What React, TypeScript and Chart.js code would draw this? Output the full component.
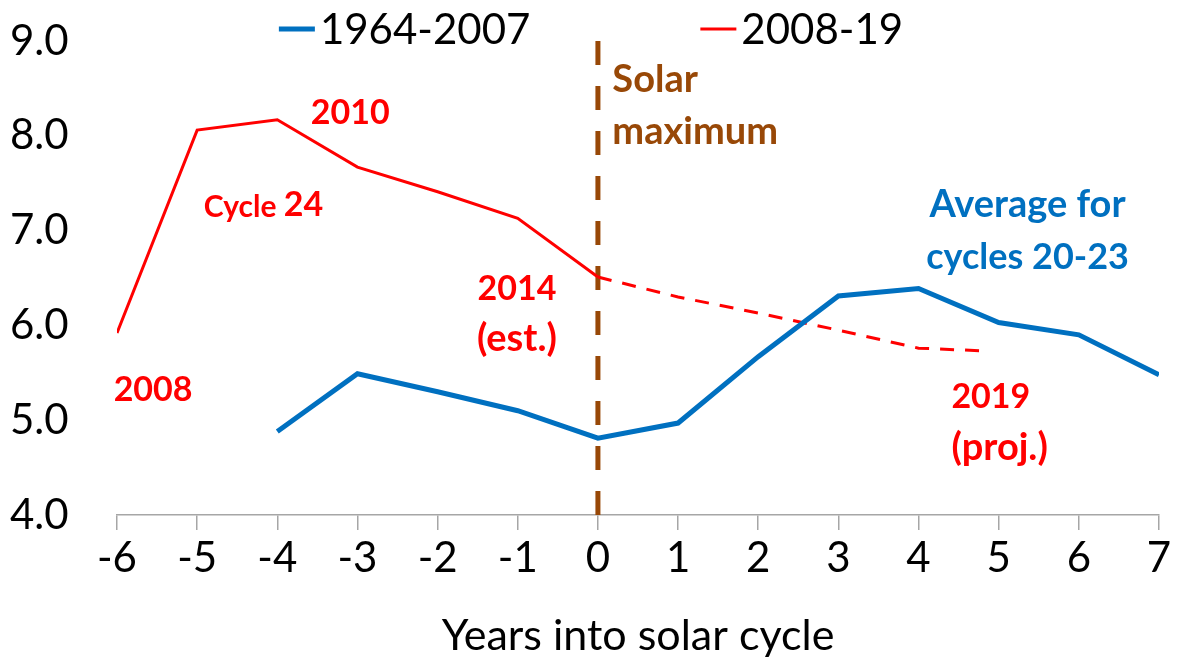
import React, { useEffect, useRef } from 'react';
import { Chart, registerables } from 'chart.js';

Chart.register(...registerables);

const FONT = 'Lato, "Open Sans", sans-serif';

// ---- data ----
const blueYears = [-4, -3, -2, -1, 0, 1, 2, 3, 4, 5, 6, 7];
const blueValues = [4.88, 5.49, 5.3, 5.1, 4.81, 4.97, 5.67, 6.31, 6.39, 6.03, 5.9, 5.48];
const redYears = [-6, -5, -4, -3, -2, -1, 0];
const redValues = [5.92, 8.06, 8.17, 7.67, 7.41, 7.13, 6.51];
const projYears = [0, 1, 2, 3, 4, 4.85];
const projValues = [6.51, 6.3, 6.13, 5.95, 5.76, 5.73];
const solarMaxYears = [0, 0];
const solarMaxValues = [9, 4];
const seriesLabels = ['1964-2007', '2008-19'];
const xMin = -6;
const xMax = 7;
const yMin = 4;
const yMax = 9;
const xTitle = 'Years into solar cycle';

const BLUE = '#0070C0';
const RED = '#FF0000';
const BROWN = '#984807';

type Note = { text: string; x: number; y: number; color: string; size: number; align: CanvasTextAlign };
const notes: Note[] = [
  { text: '2010', x: -3.09, y: 8.24, color: RED, size: 34, align: 'center' },
  { text: 'Cycle ', x: -3.92, y: 7.25, color: RED, size: 30, align: 'right' },
  { text: '24', x: -3.92, y: 7.27, color: RED, size: 34, align: 'left' },
  { text: '2014', x: -1.01, y: 6.38, color: RED, size: 34, align: 'center' },
  { text: '(est.)', x: -1.01, y: 5.86, color: RED, size: 38, align: 'center' },
  { text: '2008', x: -5.55, y: 5.32, color: RED, size: 34, align: 'center' },
  { text: '2019', x: 4.41, y: 5.24, color: RED, size: 34, align: 'left' },
  { text: '(proj.)', x: 4.41, y: 4.71, color: RED, size: 38, align: 'left' },
  { text: 'Average for', x: 5.36, y: 7.27, color: BLUE, size: 38, align: 'center' },
  { text: 'cycles 20-23', x: 5.36, y: 6.72, color: BLUE, size: 36, align: 'center' },
  { text: 'Solar', x: 0.18, y: 8.59, color: BROWN, size: 38, align: 'left' },
  { text: 'maximum', x: 0.18, y: 8.04, color: BROWN, size: 38, align: 'left' },
];

const toPts = (xs: number[], ys: number[]) => xs.map((x, i) => ({ x, y: ys[i] }));

const notesPlugin = {
  id: 'notes',
  afterDatasetsDraw(chart: any) {
    const { ctx, scales } = chart;
    ctx.save();
    ctx.textBaseline = 'middle';
    for (const n of notes) {
      ctx.font = `bold ${n.size}px ${FONT}`;
      ctx.fillStyle = n.color;
      ctx.textAlign = n.align;
      ctx.fillText(n.text, scales.x.getPixelForValue(n.x), scales.y.getPixelForValue(n.y));
    }
    ctx.restore();
  },
};

const legendPlugin = {
  id: 'customLegend',
  afterDraw(chart: any) {
    const { ctx } = chart;
    const ds = chart.data.datasets.slice(0, 2);
    const lineLen = 36;
    const textGap = 5;
    const itemGap = 170;
    ctx.save();
    ctx.font = `42px ${FONT}`;
    ctx.textBaseline = 'middle';
    ctx.textAlign = 'left';
    const widths = ds.map((d: any) => lineLen + textGap + ctx.measureText(d.label).width);
    const total = widths.reduce((a: number, b: number) => a + b, 0) + itemGap * (ds.length - 1);
    let x = chart.width / 2 - total / 2;
    const y = 29;
    ds.forEach((d: any, i: number) => {
      ctx.strokeStyle = d.borderColor;
      ctx.lineWidth = d.borderWidth;
      ctx.beginPath();
      ctx.moveTo(x, y);
      ctx.lineTo(x + lineLen, y);
      ctx.stroke();
      ctx.fillStyle = '#000';
      ctx.fillText(d.label, x + lineLen + textGap, y + 1);
      x += widths[i] + itemGap;
    });
    ctx.restore();
  },
};

export default function App() {
  const ref = useRef<HTMLCanvasElement>(null);
  useEffect(() => {
    document.body.style.margin = '0';
    const chart = new Chart(ref.current!, {
      type: 'line',
      data: {
        datasets: [
          {
            label: seriesLabels[0],
            data: toPts(blueYears, blueValues),
            borderColor: BLUE,
            borderWidth: 5,
            pointRadius: 0,
            tension: 0,
          },
          {
            label: seriesLabels[1],
            data: toPts(redYears, redValues),
            borderColor: RED,
            borderWidth: 3,
            pointRadius: 0,
            tension: 0,
          },
          {
            label: '2008-19 projected',
            data: toPts(projYears, projValues),
            borderColor: RED,
            borderWidth: 3,
            borderDash: [14, 11],
            pointRadius: 0,
            tension: 0,
          },
          {
            label: 'Solar maximum',
            data: toPts(solarMaxYears, solarMaxValues),
            borderColor: BROWN,
            borderWidth: 5,
            borderDash: [24, 21],
            pointRadius: 0,
          },
        ],
      },
      options: {
        animation: false,
        responsive: false,
        layout: { padding: { top: 41, right: 23, left: 10, bottom: 0 } },
        plugins: { legend: { display: false }, tooltip: { enabled: false } },
        scales: {
          x: {
            type: 'linear',
            min: xMin,
            max: xMax,
            afterFit(scale: any) {
              scale.height = 147;
            },
            border: { display: true, color: '#A6A6A6', width: 1.5 },
            grid: { drawOnChartArea: false, drawTicks: true, tickLength: 15, color: '#A6A6A6', lineWidth: 1.5 },
            ticks: {
              stepSize: 1,
              padding: 3,
              color: '#000',
              font: { family: FONT, size: 42 },
              callback: (v: any) => String(v),
            },
            title: {
              display: true,
              text: xTitle,
              color: '#000',
              font: { family: FONT, size: 43 },
              padding: { top: 0, bottom: 0 },
            },
          },
          y: {
            min: yMin,
            max: yMax,
            afterFit(scale: any) {
              scale.width = 107;
            },
            border: { display: false },
            grid: { display: false, drawTicks: false },
            ticks: {
              stepSize: 1,
              padding: 0,
              crossAlign: 'far',
              color: '#000',
              font: { family: FONT, size: 42 },
              callback: (v: any) => Number(v).toFixed(1),
            },
          },
        },
      },
      plugins: [notesPlugin, legendPlugin],
    });
    return () => chart.destroy();
  }, []);
  return <canvas ref={ref} width={1182} height={662} style={{ display: 'block' }} />;
}
